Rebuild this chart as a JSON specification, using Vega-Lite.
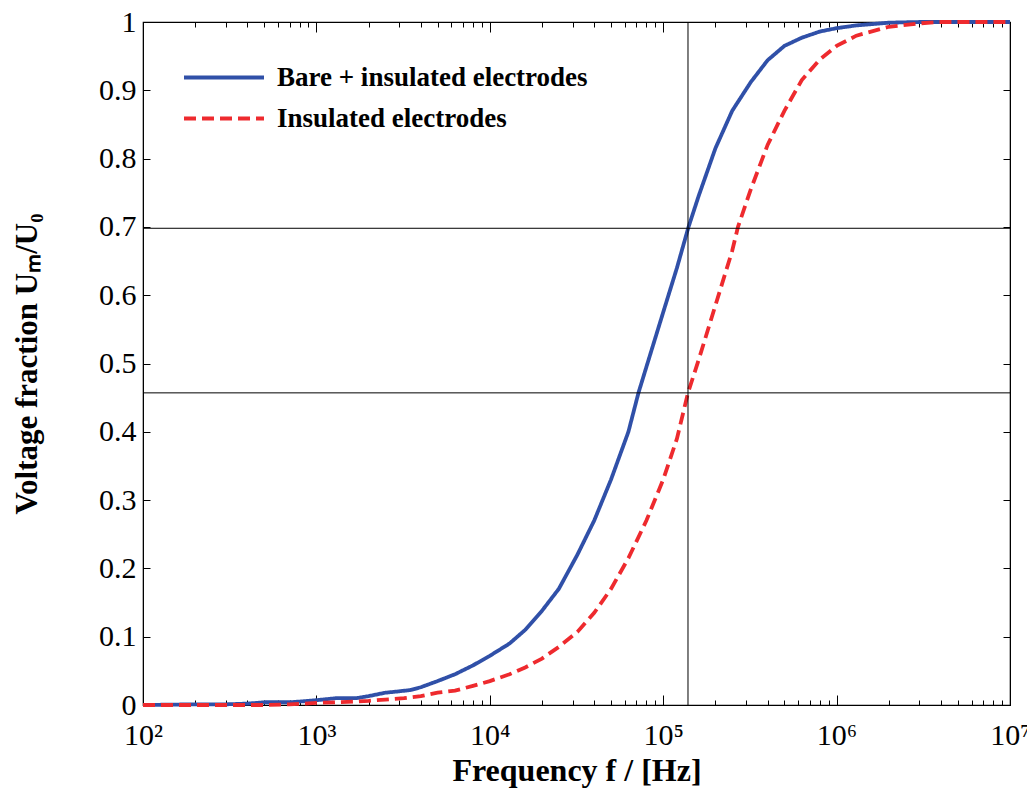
{
  "$schema": "https://vega.github.io/schema/vega-lite/v6.json",
  "width": 867,
  "height": 683,
  "autosize": "none",
  "padding": {"left": 143, "top": 22, "right": 17, "bottom": 83},
  "background": "white",
  "config": {
    "view": {"stroke": "black", "strokeWidth": 1.2},
    "axis": {"grid": false, "domainColor": "black", "tickColor": "black", "labelColor": "black", "titleColor": "black", "labelFont": "Liberation Serif", "titleFont": "Liberation Serif"}
  },
  "datasets": {
    "curves": [
      {"f": 100, "v": 0, "series": "Bare + insulated electrodes"},
      {"f": 200, "v": 0.001, "series": "Bare + insulated electrodes"},
      {"f": 300, "v": 0.001, "series": "Bare + insulated electrodes"},
      {"f": 400, "v": 0.002, "series": "Bare + insulated electrodes"},
      {"f": 500, "v": 0.004, "series": "Bare + insulated electrodes"},
      {"f": 700, "v": 0.004, "series": "Bare + insulated electrodes"},
      {"f": 800, "v": 0.005, "series": "Bare + insulated electrodes"},
      {"f": 1000, "v": 0.007, "series": "Bare + insulated electrodes"},
      {"f": 1300, "v": 0.01, "series": "Bare + insulated electrodes"},
      {"f": 1700, "v": 0.01, "series": "Bare + insulated electrodes"},
      {"f": 2000, "v": 0.013, "series": "Bare + insulated electrodes"},
      {"f": 2500, "v": 0.018, "series": "Bare + insulated electrodes"},
      {"f": 3000, "v": 0.02, "series": "Bare + insulated electrodes"},
      {"f": 3500, "v": 0.022, "series": "Bare + insulated electrodes"},
      {"f": 4000, "v": 0.026, "series": "Bare + insulated electrodes"},
      {"f": 5000, "v": 0.035, "series": "Bare + insulated electrodes"},
      {"f": 6300, "v": 0.045, "series": "Bare + insulated electrodes"},
      {"f": 8000, "v": 0.058, "series": "Bare + insulated electrodes"},
      {"f": 10000, "v": 0.072, "series": "Bare + insulated electrodes"},
      {"f": 13000, "v": 0.09, "series": "Bare + insulated electrodes"},
      {"f": 16000, "v": 0.11, "series": "Bare + insulated electrodes"},
      {"f": 20000, "v": 0.138, "series": "Bare + insulated electrodes"},
      {"f": 25000, "v": 0.17, "series": "Bare + insulated electrodes"},
      {"f": 32000, "v": 0.22, "series": "Bare + insulated electrodes"},
      {"f": 40000, "v": 0.27, "series": "Bare + insulated electrodes"},
      {"f": 50000, "v": 0.33, "series": "Bare + insulated electrodes"},
      {"f": 63000, "v": 0.4, "series": "Bare + insulated electrodes"},
      {"f": 72000, "v": 0.457, "series": "Bare + insulated electrodes"},
      {"f": 80000, "v": 0.495, "series": "Bare + insulated electrodes"},
      {"f": 100000, "v": 0.575, "series": "Bare + insulated electrodes"},
      {"f": 120000, "v": 0.64, "series": "Bare + insulated electrodes"},
      {"f": 140000, "v": 0.7, "series": "Bare + insulated electrodes"},
      {"f": 160000, "v": 0.745, "series": "Bare + insulated electrodes"},
      {"f": 200000, "v": 0.815, "series": "Bare + insulated electrodes"},
      {"f": 250000, "v": 0.87, "series": "Bare + insulated electrodes"},
      {"f": 320000, "v": 0.912, "series": "Bare + insulated electrodes"},
      {"f": 400000, "v": 0.944, "series": "Bare + insulated electrodes"},
      {"f": 500000, "v": 0.965, "series": "Bare + insulated electrodes"},
      {"f": 630000, "v": 0.977, "series": "Bare + insulated electrodes"},
      {"f": 800000, "v": 0.986, "series": "Bare + insulated electrodes"},
      {"f": 1000000, "v": 0.991, "series": "Bare + insulated electrodes"},
      {"f": 1300000, "v": 0.995, "series": "Bare + insulated electrodes"},
      {"f": 2000000, "v": 0.999, "series": "Bare + insulated electrodes"},
      {"f": 3000000, "v": 1, "series": "Bare + insulated electrodes"},
      {"f": 5000000, "v": 1, "series": "Bare + insulated electrodes"},
      {"f": 10000000, "v": 1, "series": "Bare + insulated electrodes"},
      {"f": 100, "v": 0, "series": "Insulated electrodes"},
      {"f": 500, "v": 0, "series": "Insulated electrodes"},
      {"f": 700, "v": 0.001, "series": "Insulated electrodes"},
      {"f": 1000, "v": 0.003, "series": "Insulated electrodes"},
      {"f": 1300, "v": 0.004, "series": "Insulated electrodes"},
      {"f": 2000, "v": 0.006, "series": "Insulated electrodes"},
      {"f": 2500, "v": 0.008, "series": "Insulated electrodes"},
      {"f": 3200, "v": 0.01, "series": "Insulated electrodes"},
      {"f": 4000, "v": 0.013, "series": "Insulated electrodes"},
      {"f": 5000, "v": 0.018, "series": "Insulated electrodes"},
      {"f": 6300, "v": 0.021, "series": "Insulated electrodes"},
      {"f": 8000, "v": 0.028, "series": "Insulated electrodes"},
      {"f": 10000, "v": 0.035, "series": "Insulated electrodes"},
      {"f": 13000, "v": 0.045, "series": "Insulated electrodes"},
      {"f": 16000, "v": 0.055, "series": "Insulated electrodes"},
      {"f": 20000, "v": 0.068, "series": "Insulated electrodes"},
      {"f": 25000, "v": 0.085, "series": "Insulated electrodes"},
      {"f": 32000, "v": 0.107, "series": "Insulated electrodes"},
      {"f": 40000, "v": 0.135, "series": "Insulated electrodes"},
      {"f": 50000, "v": 0.17, "series": "Insulated electrodes"},
      {"f": 63000, "v": 0.215, "series": "Insulated electrodes"},
      {"f": 80000, "v": 0.27, "series": "Insulated electrodes"},
      {"f": 100000, "v": 0.33, "series": "Insulated electrodes"},
      {"f": 120000, "v": 0.39, "series": "Insulated electrodes"},
      {"f": 139000, "v": 0.457, "series": "Insulated electrodes"},
      {"f": 160000, "v": 0.505, "series": "Insulated electrodes"},
      {"f": 200000, "v": 0.585, "series": "Insulated electrodes"},
      {"f": 250000, "v": 0.665, "series": "Insulated electrodes"},
      {"f": 270000, "v": 0.7, "series": "Insulated electrodes"},
      {"f": 320000, "v": 0.755, "series": "Insulated electrodes"},
      {"f": 400000, "v": 0.82, "series": "Insulated electrodes"},
      {"f": 500000, "v": 0.87, "series": "Insulated electrodes"},
      {"f": 630000, "v": 0.915, "series": "Insulated electrodes"},
      {"f": 800000, "v": 0.945, "series": "Insulated electrodes"},
      {"f": 1000000, "v": 0.965, "series": "Insulated electrodes"},
      {"f": 1300000, "v": 0.98, "series": "Insulated electrodes"},
      {"f": 2000000, "v": 0.993, "series": "Insulated electrodes"},
      {"f": 3000000, "v": 0.998, "series": "Insulated electrodes"},
      {"f": 4000000, "v": 1, "series": "Insulated electrodes"},
      {"f": 10000000, "v": 1, "series": "Insulated electrodes"}
    ],
    "vref": [{"f": 139000}],
    "href": [{"v": 0.698}, {"v": 0.457}]
  },
  "layer": [
    {
      "data": {"name": "curves"},
      "mark": {"type": "line", "strokeWidth": 3.8},
      "encoding": {
        "x": {
          "field": "f", "type": "quantitative",
          "scale": {"type": "log", "domain": [100, 10000000], "nice": false},
          "axis": {
            "orient": "bottom",
            "values": [100,200,300,400,500,600,700,800,900,1000,2000,3000,4000,5000,6000,7000,8000,9000,10000,20000,30000,40000,50000,60000,70000,80000,90000,100000,200000,300000,400000,500000,600000,700000,800000,900000,1000000,2000000,3000000,4000000,5000000,6000000,7000000,8000000,9000000,10000000],
            "labelExpr": "abs(log(datum.value)/LN10 - round(log(datum.value)/LN10)) < 0.001 ? '10' + ['⁰','¹','²','³','⁴','⁵','⁶','⁷'][round(log(datum.value)/LN10)] : ''",
            "tickSize": {"condition": {"test": "abs(log(datum.value)/LN10 - round(log(datum.value)/LN10)) < 0.001", "value": -10}, "value": -5},
            "labelFontSize": 30,
            "labelPadding": 25,
            "labelFlush": false,
            "labelOverlap": false,
            "title": "Frequency f / [Hz]",
            "titleFontSize": 32,
            "titleFontWeight": "bold",
            "titlePadding": 0
          }
        },
        "y": {
          "field": "v", "type": "quantitative",
          "scale": {"domain": [0, 1], "nice": false},
          "axis": {
            "orient": "left",
            "values": [0,0.1,0.2,0.3,0.4,0.5,0.6,0.7,0.8,0.9,1],
            "labelExpr": "'' + round(datum.value*10)/10",
            "tickSize": -7,
            "labelFontSize": 30,
            "labelPadding": 14,
            "labelFlush": false,
            "labelOverlap": false,
            "title": "Voltage fraction Uₘ/U₀",
            "titleFontSize": 31,
            "titleFontWeight": "bold",
            "titlePadding": 55
          }
        },
        "color": {
          "field": "series", "type": "nominal",
          "scale": {"domain": ["Bare + insulated electrodes", "Insulated electrodes"], "range": ["#3050A8", "#EE2A2E"]},
          "legend": {
            "orient": "none", "legendX": 39, "legendY": 35, "title": null,
            "symbolType": "stroke", "symbolSize": 6400, "symbolStrokeWidth": 3.8,
            "labelFont": "Liberation Serif", "labelFontSize": 27, "labelFontWeight": "bold", "labelColor": "black",
            "labelOffset": 11, "rowPadding": 0, "clipHeight": 41, "labelLimit": 0
          }
        },
        "strokeDash": {
          "field": "series", "type": "nominal",
          "scale": {"domain": ["Bare + insulated electrodes", "Insulated electrodes"], "range": [[1, 0], [12, 6]]},
          "legend": null
        }
      }
    },
    {
      "data": {"name": "vref"},
      "mark": {"type": "rule", "color": "black", "strokeWidth": 1},
      "encoding": {
        "x": {
          "field": "f", "type": "quantitative",
          "scale": {"type": "log", "domain": [100, 10000000], "nice": false},
          "axis": {
            "orient": "top",
            "values": [100,200,300,400,500,600,700,800,900,1000,2000,3000,4000,5000,6000,7000,8000,9000,10000,20000,30000,40000,50000,60000,70000,80000,90000,100000,200000,300000,400000,500000,600000,700000,800000,900000,1000000,2000000,3000000,4000000,5000000,6000000,7000000,8000000,9000000,10000000],
            "labels": false,
            "title": null,
            "tickSize": {"condition": {"test": "abs(log(datum.value)/LN10 - round(log(datum.value)/LN10)) < 0.001", "value": -10}, "value": -5}
          }
        }
      }
    },
    {
      "data": {"name": "href"},
      "mark": {"type": "rule", "color": "black", "strokeWidth": 1},
      "encoding": {
        "y": {
          "field": "v", "type": "quantitative",
          "scale": {"domain": [0, 1], "nice": false},
          "axis": {
            "orient": "right",
            "values": [0,0.1,0.2,0.3,0.4,0.5,0.6,0.7,0.8,0.9,1],
            "labels": false,
            "title": null,
            "tickSize": -7
          }
        }
      }
    }
  ],
  "resolve": {"axis": {"x": "independent", "y": "independent"}}
}
